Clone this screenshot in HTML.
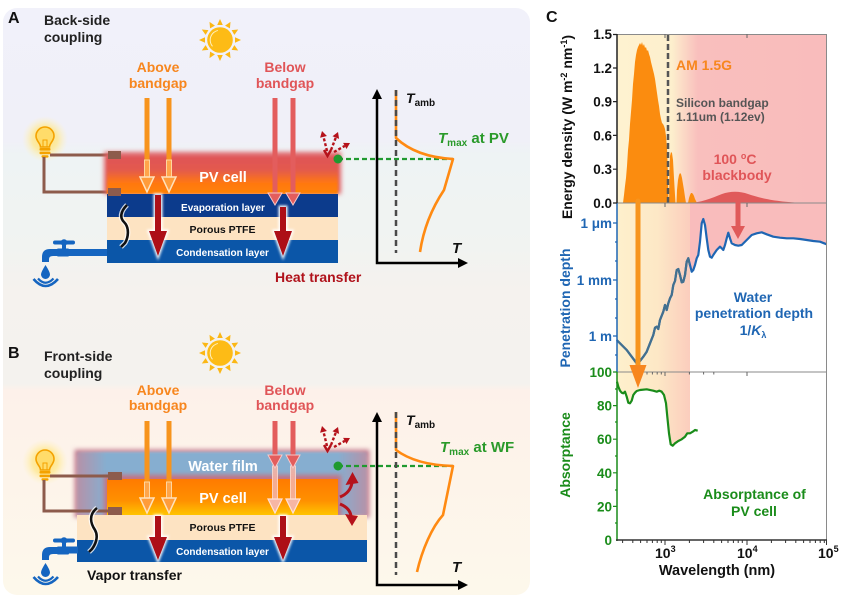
<!DOCTYPE html>
<html><head><meta charset="utf-8">
<style>
html,body{margin:0;padding:0;background:#fff;width:841px;height:597px;overflow:hidden}
svg{display:block}
text{font-family:"Liberation Sans",Arial,sans-serif;font-weight:bold}
</style></head><body>
<svg xmlns="http://www.w3.org/2000/svg" xmlns:xlink="http://www.w3.org/1999/xlink" width="841" height="597" viewBox="0 0 841 597">
<defs>
<linearGradient id="bg" gradientUnits="userSpaceOnUse" x1="0" y1="8" x2="0" y2="595">
<stop offset="0" stop-color="#f1f1fa"/>
<stop offset="0.225" stop-color="#f0f0f8"/>
<stop offset="0.25" stop-color="#eef3f4"/>
<stop offset="0.41" stop-color="#f1f3f1"/>
<stop offset="0.48" stop-color="#f5f2ee"/>
<stop offset="0.64" stop-color="#f4f2ee"/>
<stop offset="0.652" stop-color="#fdf1ea"/>
<stop offset="1" stop-color="#fdf8eb"/>
</linearGradient>
<linearGradient id="pvA" x1="0" y1="0" x2="0" y2="1">
<stop offset="0" stop-color="#df5556"/>
<stop offset="0.35" stop-color="#e35a4e"/>
<stop offset="0.7" stop-color="#ff7812"/>
<stop offset="1" stop-color="#ff8200"/>
</linearGradient>
<linearGradient id="pvB" x1="0" y1="0" x2="0" y2="1">
<stop offset="0" stop-color="#ff7a00"/>
<stop offset="0.6" stop-color="#ff9000"/>
<stop offset="1" stop-color="#ffc400"/>
</linearGradient>
<linearGradient id="wf" x1="0" y1="0" x2="1" y2="0">
<stop offset="0" stop-color="#b592a8"/>
<stop offset="0.1" stop-color="#86aed0"/>
<stop offset="0.9" stop-color="#86aed0"/>
<stop offset="1" stop-color="#b592a8"/>
</linearGradient>
<radialGradient id="glowG">
<stop offset="0" stop-color="#ffe070" stop-opacity="1"/>
<stop offset="0.55" stop-color="#ffe88c" stop-opacity="0.75"/>
<stop offset="1" stop-color="#fff3c0" stop-opacity="0"/>
</radialGradient>
<linearGradient id="topBand" gradientUnits="userSpaceOnUse" x1="617" y1="0" x2="827" y2="0">
<stop offset="0" stop-color="#fef2d0"/>
<stop offset="0.26" stop-color="#fdefcd"/>
<stop offset="0.385" stop-color="#f9bfbd"/>
<stop offset="1" stop-color="#f9bcbc"/>
</linearGradient>
<linearGradient id="midBand" gradientUnits="userSpaceOnUse" x1="617" y1="0" x2="690" y2="0">
<stop offset="0" stop-color="#fef0cc"/>
<stop offset="0.55" stop-color="#fde8c6"/>
<stop offset="1" stop-color="#fbcdbd"/>
</linearGradient>
<filter id="b1" x="-20%" y="-30%" width="140%" height="160%"><feGaussianBlur stdDeviation="1"/></filter>
<filter id="b2" x="-20%" y="-50%" width="140%" height="200%"><feGaussianBlur stdDeviation="2.5"/></filter>
<filter id="bw" x="-50%" y="-50%" width="200%" height="200%"><feGaussianBlur stdDeviation="1.3"/></filter>
<clipPath id="clipL"><rect x="610" y="195" width="80" height="190"/></clipPath>
<g id="sun">
<g fill="#fbb714">
<polygon points="-2.8,-15 2.8,-15 0,-21"/>
<polygon points="-2.8,-15 2.8,-15 0,-21" transform="rotate(30)"/>
<polygon points="-2.8,-15 2.8,-15 0,-21" transform="rotate(60)"/>
<polygon points="-2.8,-15 2.8,-15 0,-21" transform="rotate(90)"/>
<polygon points="-2.8,-15 2.8,-15 0,-21" transform="rotate(120)"/>
<polygon points="-2.8,-15 2.8,-15 0,-21" transform="rotate(150)"/>
<polygon points="-2.8,-15 2.8,-15 0,-21" transform="rotate(180)"/>
<polygon points="-2.8,-15 2.8,-15 0,-21" transform="rotate(210)"/>
<polygon points="-2.8,-15 2.8,-15 0,-21" transform="rotate(240)"/>
<polygon points="-2.8,-15 2.8,-15 0,-21" transform="rotate(270)"/>
<polygon points="-2.8,-15 2.8,-15 0,-21" transform="rotate(300)"/>
<polygon points="-2.8,-15 2.8,-15 0,-21" transform="rotate(330)"/>
</g>
<circle r="12.8" fill="#fdbb16"/>
<circle r="9.8" fill="none" stroke="#fff1c0" stroke-width="1" stroke-dasharray="20 42" transform="rotate(140)"/>
</g>
<g id="bulb">
<circle cx="0" cy="-2" r="23" fill="url(#glowG)"/>
<path d="M-4.5,6 C-4.5,2 -9,0 -9,-5 A9,9 0 1 1 9,-5 C9,0 4.5,2 4.5,6 Z" fill="#ffdc6a" stroke="#f4a200" stroke-width="1.6"/>
<path d="M-2,6 L-2,-1 L2,-1 L2,6" fill="none" stroke="#f4a200" stroke-width="1"/>
<rect x="-5.5" y="7" width="11" height="2.6" rx="1" fill="#f4a200"/>
<rect x="-5.5" y="10.6" width="11" height="2.6" rx="1" fill="#f4a200"/>
<rect x="-3.5" y="14.2" width="7" height="2.4" rx="1" fill="#f4a200"/>
</g>
<g id="faucet" fill="#1565c0">
<rect x="53" y="240.5" width="22" height="4" rx="2"/>
<circle cx="64" cy="242.5" r="3.3"/>
<rect x="62" y="244" width="4" height="6"/>
<rect x="57" y="248.5" width="12" height="8" rx="1"/>
<path d="M60,249 L50,249 Q42,249 42,257 L42,262 L49,262 L49,259 Q49,256 53,256 L60,256 Z"/>
<path d="M45.5,265 Q41,272 41,274.5 A4.5,4.5 0 0 0 50,274.5 Q50,272 45.5,265 Z"/>
<path d="M33.5,279 Q45.5,293 58,279" fill="none" stroke="#1565c0" stroke-width="2.6"/>
<path d="M38,278.5 Q45.5,287 53.5,278.5" fill="none" stroke="#1565c0" stroke-width="2.2"/>
</g>
<g id="dashArr">
<g stroke="#b5121b" stroke-width="2.4" fill="none" stroke-dasharray="3 2">
<line x1="327" y1="151" x2="323.5" y2="136.8"/>
<line x1="331" y1="150" x2="335.8" y2="137.6"/>
<line x1="334" y1="152" x2="344.8" y2="145.9"/>
</g>
<g fill="#b5121b">
<polygon points="322,131 326.9,136 320.1,137.7"/>
<polygon points="338,132 339.1,138.9 332.5,136.3"/>
<polygon points="350,143 346.5,149 343.1,142.9"/>
</g>
<path d="M324,150 L327.5,156 L331,150" stroke="#b5121b" stroke-width="2.4" fill="none"/>
</g>
</defs>

<!-- background panels A/B -->
<rect x="3" y="8" width="527" height="587" rx="14" fill="url(#bg)"/>

<!-- ===== PANEL A ===== -->
<text x="8" y="23" font-size="16" fill="#111">A</text>
<text x="44" y="25" font-size="14" fill="#222">Back-side</text>
<text x="44" y="42" font-size="14" fill="#222">coupling</text>
<use xlink:href="#sun" href="#sun" x="220" y="40"/>
<text x="158" y="72" font-size="14" fill="#f7861e" text-anchor="middle">Above</text>
<text x="158" y="88" font-size="14" fill="#f7861e" text-anchor="middle">bandgap</text>
<text x="285" y="72" font-size="14" fill="#e05558" text-anchor="middle">Below</text>
<text x="285" y="88" font-size="14" fill="#e05558" text-anchor="middle">bandgap</text>

<use xlink:href="#bulb" href="#bulb" x="45" y="141"/>
<g stroke="#8d5b4c" stroke-width="3" fill="none">
<path d="M50,155 L108,155"/>
<path d="M44,157 L44,192 L108,192"/>
</g>
<use xlink:href="#faucet" href="#faucet"/>
<rect x="60" y="249" width="48" height="7" fill="#1565c0"/>

<!-- PV A -->
<rect x="104" y="152" width="237" height="42" fill="#e06266" filter="url(#b2)"/>
<rect x="107" y="157" width="231" height="37" fill="url(#pvA)" filter="url(#b1)"/>
<rect x="107" y="194" width="231" height="23" fill="#0c3b8c"/>
<rect x="107" y="217" width="231" height="23" fill="#fde3c2"/>
<rect x="107" y="240" width="231" height="23" fill="#0b56a8"/>
<text x="223" y="182" font-size="14.5" fill="#fff" text-anchor="middle">PV cell</text>
<text x="223" y="211" font-size="10" fill="#fff" text-anchor="middle">Evaporation layer</text>
<text x="222.5" y="233" font-size="10.5" fill="#111" text-anchor="middle">Porous PTFE</text>
<text x="222.5" y="256" font-size="10" fill="#fff" text-anchor="middle">Condensation layer</text>
<rect x="108" y="151" width="13" height="8" fill="#8d5b4c"/>
<rect x="108" y="188" width="13" height="8" fill="#8d5b4c"/>
<path d="M127,205 C120,212 120,218 124,222 C130,228 128,238 125,243 L121,247" stroke="#fff" stroke-width="5" fill="none" opacity="0.8"/>
<path d="M127,205 C120,212 120,218 124,222 C130,228 128,238 125,243 L121,247" stroke="#111" stroke-width="2.6" fill="none"/>

<!-- orange arrows A -->
<g>
<line x1="147" y1="98" x2="147" y2="162" stroke="#f7941d" stroke-width="5"/>
<rect x="144.5" y="160" width="5" height="18" fill="#ffa54a" stroke="#ffd6a0" stroke-width="1"/>
<polygon points="140,177 154,177 147,192" fill="#ff9c3a" stroke="#ffe2bd" stroke-width="1.5"/>
<line x1="169" y1="98" x2="169" y2="162" stroke="#f7941d" stroke-width="5"/>
<rect x="166.5" y="160" width="5" height="18" fill="#ffa54a" stroke="#ffd6a0" stroke-width="1"/>
<polygon points="162,177 176,177 169,192" fill="#ff9c3a" stroke="#ffe2bd" stroke-width="1.5"/>
</g>
<!-- red arrows A -->
<g>
<line x1="275" y1="98" x2="275" y2="194" stroke="#e35d5d" stroke-width="5"/>
<polygon points="268,193 282,193 275,205" fill="#e35d5d" stroke="#f7c8c8" stroke-width="1"/>
<line x1="293" y1="98" x2="293" y2="194" stroke="#e35d5d" stroke-width="5"/>
<polygon points="286,193 300,193 293,205" fill="#e35d5d" stroke="#f7c8c8" stroke-width="1"/>
</g>
<!-- dark red arrows A -->
<g filter="url(#bw)" fill="#fff" stroke="#fff" stroke-width="3">
<path d="M155,195 L161,195 L161,231 L167,231 L158,256 L149,231 L155,231 Z"/>
<path d="M280,207 L286,207 L286,231 L292,231 L283,256 L274,231 L280,231 Z"/>
</g>
<g fill="#ad0f17">
<path d="M155,195 L161,195 L161,231 L167,231 L158,256 L149,231 L155,231 Z"/>
<path d="M280,207 L286,207 L286,231 L292,231 L283,256 L274,231 L280,231 Z"/>
</g>
<text x="275" y="282" font-size="14" fill="#b0121b">Heat transfer</text>

<!-- graph A -->
<use xlink:href="#dashArr" href="#dashArr"/>
<line x1="338" y1="159" x2="453" y2="159" stroke="#1f9a2f" stroke-width="2.2" stroke-dasharray="5 3"/>
<circle cx="338" cy="159" r="4.5" fill="#1f9a2f"/>
<g stroke="#000" stroke-width="2.5" fill="none">
<path d="M377,98 L377,263 L459,263"/>
</g>
<polygon points="372,99 382,99 377,89" fill="#000"/>
<polygon points="458,258 458,268 468,263" fill="#000"/>
<path d="M396,90 L396,138 Q416,157 453,159 L444,190 C434,205 424,225 420,252" stroke="#ff8a12" stroke-width="2.6" fill="none" stroke-linejoin="round"/>
<line x1="396" y1="90" x2="396" y2="253" stroke="#4a4a4a" stroke-width="2.5" stroke-dasharray="6 4"/>
<text x="406" y="103" font-size="14" fill="#111"><tspan font-style="italic">T</tspan><tspan font-size="10" dy="3">amb</tspan></text>
<text x="438" y="143" font-size="15" fill="#2a9a2a"><tspan font-style="italic">T</tspan><tspan font-size="10" dy="3">max</tspan><tspan dy="-3"> at PV</tspan></text>
<text x="452" y="253" font-size="15" fill="#111" font-style="italic">T</text>

<!-- ===== PANEL B ===== -->
<text x="8" y="358" font-size="16" fill="#111">B</text>
<text x="44" y="361" font-size="14" fill="#222">Front-side</text>
<text x="44" y="378" font-size="14" fill="#222">coupling</text>
<use xlink:href="#sun" href="#sun" x="220" y="353"/>
<text x="158" y="395" font-size="14" fill="#f7861e" text-anchor="middle">Above</text>
<text x="158" y="410" font-size="14" fill="#f7861e" text-anchor="middle">bandgap</text>
<text x="285" y="395" font-size="14" fill="#e05558" text-anchor="middle">Below</text>
<text x="285" y="410" font-size="14" fill="#e05558" text-anchor="middle">bandgap</text>

<use xlink:href="#bulb" href="#bulb" x="45" y="464"/>
<!-- water film -->
<rect x="77" y="452" width="290" height="63" fill="none" stroke="#c47f92" stroke-width="5" filter="url(#b2)"/>
<rect x="77" y="452" width="290" height="63" fill="url(#wf)" filter="url(#b1)"/>
<rect x="104" y="475" width="237" height="42" fill="#d8606a" filter="url(#b2)" opacity="0.8"/>
<rect x="107" y="479" width="231" height="36" fill="url(#pvB)"/>
<rect x="77" y="515" width="290" height="25" fill="#fde3c2"/>
<rect x="77" y="540" width="290" height="22" fill="#0b56a8"/>
<text x="223" y="471" font-size="14.5" fill="#fff" text-anchor="middle">Water film</text>
<text x="223" y="503" font-size="14.5" fill="#fff" text-anchor="middle">PV cell</text>
<text x="222.5" y="531" font-size="10.5" fill="#111" text-anchor="middle">Porous PTFE</text>
<text x="222.5" y="555" font-size="10" fill="#fff" text-anchor="middle">Condensation layer</text>
<g stroke="#8d5b4c" stroke-width="3" fill="none">
<path d="M50,476 L108,476"/>
<path d="M44,480 L44,511 L108,511"/>
</g>
<rect x="108" y="472" width="14" height="8" fill="#8d5b4c"/>
<rect x="108" y="507" width="14" height="8" fill="#8d5b4c"/>
<use xlink:href="#faucet" href="#faucet" transform="translate(0,298)"/>
<rect x="60" y="546.5" width="18" height="7" fill="#1565c0"/>
<path d="M97,508 C88,515 91,524 95,530 C99,537 95,545 92,549 L89,552" stroke="#fff" stroke-width="5" fill="none" opacity="0.8"/>
<path d="M97,508 C88,515 91,524 95,530 C99,537 95,545 92,549 L89,552" stroke="#111" stroke-width="2.6" fill="none"/>
<text x="87" y="580" font-size="14" fill="#111">Vapor transfer</text>

<!-- orange arrows B -->
<g>
<line x1="147" y1="421" x2="147" y2="484" stroke="#f7941d" stroke-width="5"/>
<rect x="144.5" y="482" width="5" height="17" fill="#ffa54a" stroke="#ffd6a0" stroke-width="1"/>
<polygon points="140,498 154,498 147,513" fill="#ff9c3a" stroke="#ffe2bd" stroke-width="1.5"/>
<line x1="169" y1="421" x2="169" y2="484" stroke="#f7941d" stroke-width="5"/>
<rect x="166.5" y="482" width="5" height="17" fill="#ffa54a" stroke="#ffd6a0" stroke-width="1"/>
<polygon points="162,498 176,498 169,513" fill="#ff9c3a" stroke="#ffe2bd" stroke-width="1.5"/>
</g>
<!-- red arrows B -->
<g>
<rect x="272.5" y="466" width="5" height="35" fill="#f5b2a4" stroke="#fbd8d0" stroke-width="1" opacity="0.9"/>
<polygon points="268,499 282,499 275,513" fill="#f6b6a4" stroke="#ffe2d6" stroke-width="1.2"/>
<rect x="290.5" y="466" width="5" height="35" fill="#f5b2a4" stroke="#fbd8d0" stroke-width="1" opacity="0.9"/>
<polygon points="286,499 300,499 293,513" fill="#f6b6a4" stroke="#ffe2d6" stroke-width="1.2"/>
<line x1="275" y1="421" x2="275" y2="457" stroke="#e35d5d" stroke-width="5"/>
<polygon points="268,455 282,455 275,468" fill="#e35d5d" stroke="#f7c8c8" stroke-width="1"/>
<line x1="293" y1="421" x2="293" y2="457" stroke="#e35d5d" stroke-width="5"/>
<polygon points="286,455 300,455 293,468" fill="#e35d5d" stroke="#f7c8c8" stroke-width="1"/>
</g>
<!-- dark red arrows B -->
<g filter="url(#bw)" fill="#fff" stroke="#fff" stroke-width="3">
<path d="M155,516 L161,516 L161,537 L167,537 L158,560 L149,537 L155,537 Z"/>
<path d="M280,516 L286,516 L286,537 L292,537 L283,560 L274,537 L280,537 Z"/>
</g>
<g fill="#ad0f17">
<path d="M155,516 L161,516 L161,537 L167,537 L158,560 L149,537 L155,537 Z"/>
<path d="M280,516 L286,516 L286,537 L292,537 L283,560 L274,537 L280,537 Z"/>
</g>
<!-- curved arrows B -->
<g stroke="#b5121b" stroke-width="3" fill="none">
<path d="M340,497 Q350,493 352,483"/>
<path d="M340,504 Q350,508 351,516"/>
</g>
<polygon points="345.5,485 358.5,483 352.5,472" fill="#b5121b"/>
<polygon points="345,514 358,516 352,526" fill="#b5121b"/>

<!-- graph B -->
<use xlink:href="#dashArr" href="#dashArr" transform="translate(0,295)"/>
<line x1="338" y1="466" x2="453" y2="466" stroke="#1f9a2f" stroke-width="2.2" stroke-dasharray="5 3"/>
<circle cx="338" cy="466" r="4.5" fill="#1f9a2f"/>
<path d="M377,421 L377,585 L459,585" stroke="#000" stroke-width="2.5" fill="none"/>
<polygon points="372,422 382,422 377,412" fill="#000"/>
<polygon points="458,580 458,590 468,585" fill="#000"/>
<path d="M396,412 L396,450 Q416,465 453,466 L443,515 C432,527 422,550 417,572" stroke="#ff8a12" stroke-width="2.6" fill="none" stroke-linejoin="round"/>
<line x1="396" y1="412" x2="396" y2="575" stroke="#4a4a4a" stroke-width="2.5" stroke-dasharray="6 4"/>
<text x="406" y="425" font-size="14" fill="#111"><tspan font-style="italic">T</tspan><tspan font-size="10" dy="3">amb</tspan></text>
<text x="440" y="452" font-size="15" fill="#2a9a2a"><tspan font-style="italic">T</tspan><tspan font-size="10" dy="3">max</tspan><tspan dy="-3"> at WF</tspan></text>
<text x="452" y="572" font-size="15" fill="#111" font-style="italic">T</text>

<!-- ===== PANEL C ===== -->
<text x="546" y="22" font-size="16" fill="#111">C</text>

<rect x="617" y="34" width="210" height="169" fill="url(#topBand)"/>
<rect x="617" y="203" width="73" height="169" fill="url(#midBand)"/>
<path d="M690,203 L690,265 L691.7,271.7 L693.3,270 L695,265 L696.7,258.3 L698.3,255 L700,241.7 L701.7,223.3 L703.3,219 L705,225 L706.7,238.3 L708.3,250 L710,256.7 L711.7,257.7 L713.3,255 L716.7,250 L720,246.7 L721.7,248.3 L723.3,250 L725,245 L726.7,238.3 L728.3,232.7 L730,238.3 L731.7,243.3 L735,245 L738.3,245.7 L741.7,245 L746.7,240 L751.7,235 L756.7,233.3 L761.7,232.3 L766.7,234.3 L773.3,236.7 L780,237.7 L786.7,238.3 L793.3,238.3 L800,239 L806.7,240 L813.3,241 L820,241.7 L826.7,244.3 L827,203 Z" fill="#f9bcbc"/>
<path d="M617,372 L617,381.7 L618.3,386.7 L620,390.7 L621.7,392.7 L623.3,393.3 L625,391.7 L626.7,396.7 L628.3,402.7 L630,403.3 L631.7,400.7 L633.3,395 L635,392.7 L636.7,391 L640,390 L646.7,389.3 L653.3,390.7 L656.7,391.7 L659.3,390.7 L661.7,391.7 L664,395 L666,403.3 L667.3,416.7 L669,433.3 L670.7,444.3 L672.7,445.7 L675,443.3 L678.3,441 L681.7,439.3 L685,436.7 L687.3,433.3 L690,433.3 L690,372 Z" fill="url(#midBand)"/>

<g fill="#fb8c0f">
<path d="M623,203 L624,195 L625,186 L626,178 L627,166 L628,150 L629,140 L630,124 L631,112 L632,100 L633,84 L634,74 L635,62 L636,55 L637,50 L638,47 L639,45 L640,43 L641,45 L642,42 L643,46 L644,44 L645,48 L646,47 L647,51 L648,50 L649,54 L650,57 L651,62 L652,66 L653,70 L654,74 L655,79 L656,86 L657,93 L658,100 L659,106 L660,114 L661,119 L662,123 L663,124 L664,126 L665,129 L666,136 L667,148 L668,175 L668.5,203 Z"/>
<path d="M669,203 L669.5,170 L670,156 L671,152 L672,153 L673,160 L674,178 L675,195 L675.5,203 Z"/>
<path d="M676.5,203 L677,190 L678,180 L679,175 L680,173 L681,174 L682,178 L683,184 L684,190 L685,197 L686,203 Z"/>
<path d="M688,203 L689,198 L690,195 L691,193 L692,193 L693,194 L694,196 L695,199 L697,203 Z"/>
</g>
<path d="M688,203 C700,203 712,198 722,194 C730,191 740,191 748,194 C760,198 775,202 805,203 Z" fill="#e05a5a"/>
<line x1="668" y1="35" x2="668" y2="203" stroke="#555" stroke-width="2.5" stroke-dasharray="6 3"/>

<path d="M616.7,340 L621.7,345 L626.7,350 L631.7,356.7 L636.7,363.3 L640,361 L643.3,356.7 L646.7,351.7 L650,343.3 L653.3,335 L655,327.7 L656.7,326.7 L658.3,329 L660,320 L663.3,311.7 L665,305 L666.7,310 L668.3,303.3 L670,298.3 L671.7,295 L673.3,285 L675,281 L676.7,270 L678.3,269 L680,275 L681.7,282.3 L683.3,281.7 L685,275 L686.7,261.7 L688.3,258.3 L690,265 L691.7,271.7 L693.3,270 L695,265 L696.7,258.3 L698.3,255 L700,241.7 L701.7,223.3 L703.3,219 L705,225 L706.7,238.3 L708.3,250 L710,256.7 L711.7,257.7 L713.3,255 L716.7,250 L720,246.7 L721.7,248.3 L723.3,250 L725,245 L726.7,238.3 L728.3,232.7 L730,238.3 L731.7,243.3 L735,245 L738.3,245.7 L741.7,245 L746.7,240 L751.7,235 L756.7,233.3 L761.7,232.3 L766.7,234.3 L773.3,236.7 L780,237.7 L786.7,238.3 L793.3,238.3 L800,239 L806.7,240 L813.3,241 L820,241.7 L826.7,244.3" stroke="#1f66b3" stroke-width="2.2" fill="none" stroke-linejoin="round"/>
<g clip-path="url(#clipL)">
<path d="M616.7,340 L621.7,345 L626.7,350 L631.7,356.7 L636.7,363.3 L640,361 L643.3,356.7 L646.7,351.7 L650,343.3 L653.3,335 L655,327.7 L656.7,326.7 L658.3,329 L660,320 L663.3,311.7 L665,305 L666.7,310 L668.3,303.3 L670,298.3 L671.7,295 L673.3,285 L675,281 L676.7,270 L678.3,269 L680,275 L681.7,282.3 L683.3,281.7 L685,275 L686.7,261.7 L688.3,258.3 L690,265" stroke="#43708f" stroke-width="2.2" fill="none" stroke-linejoin="round"/>
</g>

<path d="M617,381.7 L618.3,386.7 L620,390.7 L621.7,392.7 L623.3,393.3 L625,391.7 L626.7,396.7 L628.3,402.7 L630,403.3 L631.7,400.7 L633.3,395 L635,392.7 L636.7,391 L640,390 L646.7,389.3 L653.3,390.7 L656.7,391.7 L659.3,390.7 L661.7,391.7 L664,395 L666,403.3 L667.3,416.7 L669,433.3 L670.7,444.3 L672.7,445.7 L675,443.3 L678.3,441 L681.7,439.3 L685,436.7 L687.3,433.3 L690,433.3 L692.7,431.7 L695,430 L697.7,430.7" stroke="#1a8c1a" stroke-width="2.2" fill="none" stroke-linejoin="round"/>

<g stroke="#8a8a8a" stroke-width="1" fill="none">
<line x1="617" y1="34.5" x2="827" y2="34.5"/>
<line x1="826.5" y1="34" x2="826.5" y2="540"/>
<line x1="617" y1="203" x2="827" y2="203"/>
<line x1="617" y1="372" x2="827" y2="372"/>
</g>
<line x1="617" y1="34" x2="617" y2="203" stroke="#222" stroke-width="1.5"/>
<line x1="617" y1="203" x2="617" y2="372" stroke="#1f66b3" stroke-width="1.5"/>
<line x1="617" y1="372" x2="617" y2="541" stroke="#1a8c1a" stroke-width="1.5"/>
<line x1="616" y1="540" x2="827" y2="540" stroke="#333" stroke-width="1.5"/>
<path d="M613,34.5h4 M613,68h4 M613,101.6h4 M613,135.4h4 M613,169.2h4 M613,203h4" stroke="#222" stroke-width="1.2"/>
<path d="M613,223h4 M613,280h4 M613,336h4 M615,242h2 M615,261h2 M615,299h2 M615,318h2 M615,355h2" stroke="#1f66b3" stroke-width="1.2"/>
<path d="M613,372h4 M613,405.6h4 M613,439.2h4 M613,472.8h4 M613,506.4h4 M615,389h2 M615,422h2 M615,456h2 M615,490h2 M615,523h2" stroke="#1a8c1a" stroke-width="1.2"/>
<path d="M665,540v5 M747,540v5 M826.5,540v5 M622.6,540v3 M632.8,540v3 M640.6,540v3 M647,540v3 M652.4,540v3 M657.2,540v3 M661.3,540v3 M689.4,540v3 M703.6,540v3 M713.8,540v3 M721.6,540v3 M728,540v3 M733.4,540v3 M738.2,540v3 M742.3,540v3 M771.4,540v3 M785.6,540v3 M795.8,540v3 M803.6,540v3 M810,540v3 M815.4,540v3 M820.2,540v3 M824.3,540v3" stroke="#333" stroke-width="1"/>
<path d="M665,203v4 M747,203v4 M665,372v4 M747,372v4 M665,34v4 M747,34v4 M640.6,372v2.5 M647,372v2.5 M652.4,372v2.5 M657.2,372v2.5 M661.3,372v2.5 M689.4,372v2.5 M703.6,372v2.5 M713.8,372v2.5" stroke="#666" stroke-width="1"/>

<line x1="638" y1="201" x2="638" y2="368" stroke="#f7941d" stroke-width="5" stroke-linecap="round"/>
<polygon points="629.5,365 646.5,365 638,388" fill="#f7861e"/>
<line x1="738" y1="201" x2="738" y2="229" stroke="#e05a5a" stroke-width="5" stroke-linecap="round"/>
<polygon points="731,226 745,226 738,239" fill="#e05a5a"/>

<g font-size="13.5" fill="#111" text-anchor="end">
<text x="612" y="39">1.5</text>
<text x="612" y="73">1.2</text>
<text x="612" y="106.6">0.9</text>
<text x="612" y="140.4">0.6</text>
<text x="612" y="174.2">0.3</text>
<text x="612" y="208">0.0</text>
</g>
<g font-size="13.5" fill="#1f66b3" text-anchor="end">
<text x="612" y="228">1 μm</text>
<text x="612" y="285">1 mm</text>
<text x="612" y="341">1 m</text>
</g>
<g font-size="13.5" fill="#1a8c1a" text-anchor="end">
<text x="612" y="377">100</text>
<text x="612" y="410.6">80</text>
<text x="612" y="444.2">60</text>
<text x="612" y="477.8">40</text>
<text x="612" y="511.4">20</text>
<text x="612" y="545">0</text>
</g>
<text transform="translate(572,127) rotate(-90)" font-size="14" fill="#111" text-anchor="middle">Energy density (W m<tspan font-size="9" dy="-5">-2</tspan><tspan dy="5"> nm</tspan><tspan font-size="9" dy="-5">-1</tspan><tspan dy="5">)</tspan></text>
<text transform="translate(570,308) rotate(-90)" font-size="14" fill="#1f66b3" text-anchor="middle">Penetration depth</text>
<text transform="translate(570,455) rotate(-90)" font-size="14" fill="#1a8c1a" text-anchor="middle">Absorptance</text>

<text x="676" y="70" font-size="14" fill="#f7861e">AM 1.5G</text>
<text x="676" y="107" font-size="12" fill="#555">Silicon bandgap</text>
<text x="676" y="121" font-size="12" fill="#555">1.11um (1.12ev)</text>
<text x="735" y="164" font-size="14" fill="#e05558" text-anchor="middle">100 <tspan font-size="9" dy="-5">o</tspan><tspan dy="5">C</tspan></text>
<text x="737" y="180" font-size="14" fill="#e05558" text-anchor="middle">blackbody</text>

<text x="753" y="302" font-size="14" fill="#1f66b3" text-anchor="middle">Water</text>
<text x="754" y="318" font-size="14" fill="#1f66b3" text-anchor="middle">penetration depth</text>
<text x="753" y="335" font-size="14" fill="#1f66b3" text-anchor="middle">1/<tspan font-style="italic">K</tspan><tspan font-size="9" dy="3">λ</tspan></text>

<text x="754.5" y="499" font-size="14" fill="#1a8c1a" text-anchor="middle">Absorptance of</text>
<text x="754" y="516" font-size="14" fill="#1a8c1a" text-anchor="middle">PV cell</text>

<g font-size="14" fill="#111">
<text x="655" y="558">10<tspan font-size="9" dy="-6">3</tspan></text>
<text x="737" y="558">10<tspan font-size="9" dy="-6">4</tspan></text>
<text x="818" y="558">10<tspan font-size="9" dy="-6">5</tspan></text>
</g>
<text x="717" y="575" font-size="14.5" fill="#111" text-anchor="middle">Wavelength (nm)</text>
</svg>
</body></html>
